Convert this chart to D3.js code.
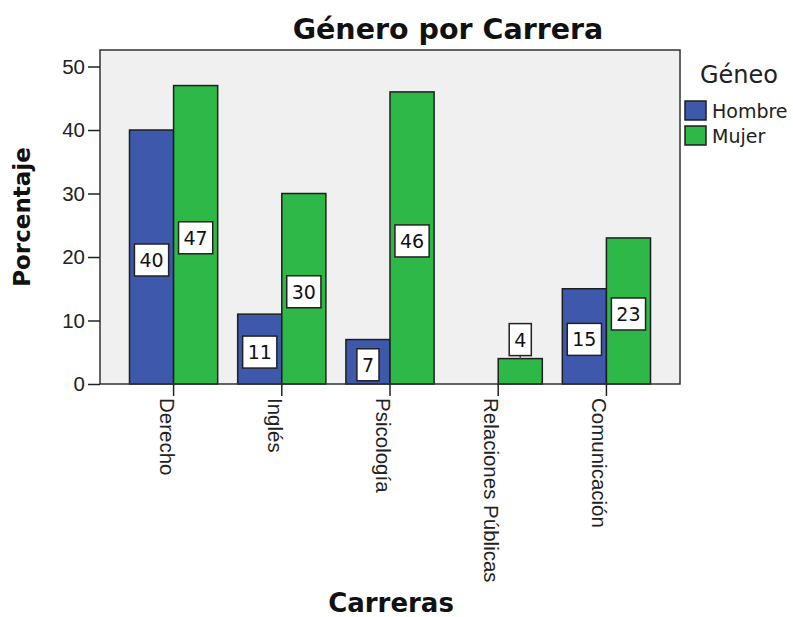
<!DOCTYPE html>
<html lang="es">

<head>
  <meta charset="utf-8">
  <title>Género por Carrera</title>
  <script src="https://cdn.jsdelivr.net/npm/d3@7/dist/d3.min.js"></script>
  <style>
    body {
      margin: 0;
      background: #fff;
      font-family: "DejaVu Sans", Arial, sans-serif;
    }

    .axis path,
    .axis line {
      fill: none;
      stroke: #222;
      stroke-width: 1.5;
    }

    .axis text {
      font-size: 20.5px;
      fill: #222;
    }
  </style>
</head>

<body>
</body>
<script>
  // data
  var categories = ["Derecho", "Inglés", "Psicología", "Relaciones Públicas", "Comunicación"];
  var series = ["Hombre", "Mujer"];
  var hombre = [40, 11, 7, null, 15];
  var mujer = [47, 30, 46, 4, 23];
  var yTicks = [0, 10, 20, 30, 40, 50];

  var colors = {
    Hombre: "#3e58ac",
    Mujer: "#2eb848"
  };

  var W = 793,
    H = 617;
  var plot = {
    left: 100,
    right: 680,
    top: 50,
    bottom: 384
  };

  var svg = d3.select("body")
    .append("svg")
    .attr("width", W)
    .attr("height", H);

  var x0 = d3.scaleBand()
    .domain(categories)
    .range([plot.left, plot.right])
    .paddingInner(0)
    .paddingOuter(0.18);

  var groupW = x0.bandwidth() * 0.815;
  var x1 = d3.scaleBand()
    .domain(series)
    .range([-groupW / 2, groupW / 2]);

  var y = d3.scaleLinear()
    .domain([0, 52.6])
    .range([plot.bottom, plot.top]);

  // plot background
  svg.append("rect")
    .attr("x", plot.left)
    .attr("y", plot.top)
    .attr("width", plot.right - plot.left)
    .attr("height", plot.bottom - plot.top)
    .style("fill", "#f0f0f0");

  var rows = [];
  categories.forEach(function(c, i) {
    rows.push({ cat: c, key: "Hombre", value: hombre[i] });
    rows.push({ cat: c, key: "Mujer", value: mujer[i] });
  });
  rows = rows.filter(function(d) {
    return d.value != null;
  });

  // bars
  svg.selectAll(".bar")
    .data(rows)
    .enter()
    .append("rect")
    .attr("class", "bar")
    .attr("x", function(d) {
      return x0(d.cat) + x0.bandwidth() / 2 + x1(d.key);
    })
    .attr("y", function(d) {
      return y(d.value);
    })
    .attr("width", x1.bandwidth())
    .attr("height", function(d) {
      return y(0) - y(d.value);
    })
    .style("fill", function(d) {
      return colors[d.key];
    })
    .style("stroke", "#1e1e1e")
    .style("stroke-width", 1.5);

  // plot frame
  svg.append("rect")
    .attr("x", plot.left)
    .attr("y", plot.top)
    .attr("width", plot.right - plot.left)
    .attr("height", plot.bottom - plot.top)
    .style("fill", "none")
    .style("stroke", "#333")
    .style("stroke-width", 1.5);

  // value labels
  var boxH = 32;
  var labels = svg.selectAll(".vlabel")
    .data(rows)
    .enter()
    .append("g")
    .attr("class", "vlabel");

  labels.each(function(d) {
    var g = d3.select(this);
    var cx = x0(d.cat) + x0.bandwidth() / 2 + x1(d.key) + x1.bandwidth() / 2;
    var barH = y(0) - y(d.value);
    var cy;
    if (barH < boxH + 4) {
      // too short: box sits above the bar with a small leader
      cy = y(d.value) - 3 - boxH / 2;
      g.append("line")
        .attr("x1", cx).attr("x2", cx)
        .attr("y1", cy + boxH / 2).attr("y2", y(d.value))
        .style("stroke", "#555")
        .style("stroke-width", 1.5);
    } else {
      cy = y(d.value / 2) + 3;
    }
    var t = g.append("text")
      .attr("x", cx)
      .attr("y", cy + 7)
      .attr("text-anchor", "middle")
      .style("font-size", "19px")
      .style("fill", "#111")
      .text(d.value);
    var tw = t.node().getComputedTextLength();
    g.insert("rect", "text")
      .attr("x", cx - tw / 2 - 5)
      .attr("y", cy - boxH / 2)
      .attr("width", tw + 10)
      .attr("height", boxH)
      .style("fill", "#fff")
      .style("stroke", "#222")
      .style("stroke-width", 1.5);
  });

  // y axis
  var yAxis = d3.axisLeft(y)
    .tickValues(yTicks)
    .tickSize(12)
    .tickPadding(3)
    .tickSizeOuter(0);

  svg.append("g")
    .attr("class", "y axis")
    .attr("transform", "translate(" + plot.left + ",0)")
    .call(yAxis)
    .call(function(g) {
      g.select(".domain").remove();
    });

  // x axis
  var xAxis = d3.axisBottom(x0)
    .tickSize(12)
    .tickSizeOuter(0);

  svg.append("g")
    .attr("class", "x axis")
    .attr("transform", "translate(0," + plot.bottom + ")")
    .call(xAxis)
    .call(function(g) {
      g.select(".domain").remove();
      g.selectAll(".tick text")
        .attr("text-anchor", "start")
        .attr("x", 0)
        .attr("y", 0)
        .attr("dy", 0)
        .attr("transform", "translate(-14,14) rotate(90)")
        .style("font-size", "20.5px");
    });

  // title and axis titles
  svg.append("text")
    .attr("x", 448)
    .attr("y", 39)
    .attr("text-anchor", "middle")
    .style("font-size", "28.5px")
    .style("font-weight", "bold")
    .style("fill", "#111")
    .text("Género por Carrera");

  svg.append("text")
    .attr("transform", "translate(30,217) rotate(-90)")
    .attr("text-anchor", "middle")
    .style("font-size", "23px")
    .style("font-weight", "bold")
    .style("fill", "#111")
    .text("Porcentaje");

  svg.append("text")
    .attr("x", 391)
    .attr("y", 612)
    .attr("text-anchor", "middle")
    .style("font-size", "26px")
    .style("font-weight", "bold")
    .style("fill", "#111")
    .text("Carreras");

  // legend
  var legend = svg.append("g")
    .attr("transform", "translate(685,0)");

  legend.append("text")
    .attr("x", 15)
    .attr("y", 83)
    .style("font-size", "24px")
    .style("fill", "#222")
    .text("Géneo");

  var items = legend.selectAll(".item")
    .data(series)
    .enter()
    .append("g")
    .attr("class", "item")
    .attr("transform", function(d, i) {
      return "translate(0," + (101 + i * 25) + ")";
    });

  items.append("rect")
    .attr("width", 21)
    .attr("height", 19)
    .style("fill", function(d) {
      return colors[d];
    })
    .style("stroke", "#1e1e1e")
    .style("stroke-width", 1.5);

  items.append("text")
    .attr("x", 27)
    .attr("y", 17)
    .style("font-size", "19px")
    .style("fill", "#222")
    .text(function(d) {
      return d;
    });
</script>

</html>
